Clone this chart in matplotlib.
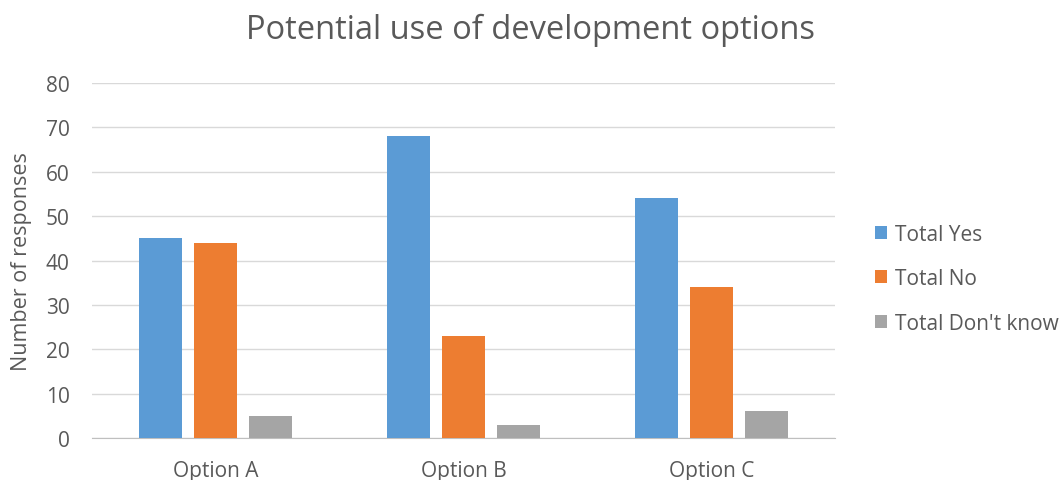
import matplotlib.pyplot as plt
import numpy as np

plt.rcParams['font.family'] = ['Open Sans', 'DejaVu Sans']

categories = ["Option A", "Option B", "Option C"]
total_yes = [45, 68, 54]
total_no = [44, 23, 34]
total_dont_know = [5, 3, 6]
series_names = ["Total Yes", "Total No", "Total Don't know"]
colors = ["#5B9BD5", "#ED7D31", "#A5A5A5"]

fig = plt.figure(figsize=(10.64, 4.81), dpi=100)
ax = fig.add_axes([0.0865, 0.0873, 0.6985, 0.738])

x = np.arange(len(categories))
width = 0.174
step = 0.222
for i, (vals, name, c) in enumerate(zip([total_yes, total_no, total_dont_know], series_names, colors)):
    ax.bar(x + (i - 1) * step, vals, width, color=c, label=name, zorder=3)

ax.set_xlim(-0.5, 2.5)
ax.set_ylim(0, 80)
ax.set_yticks(range(0, 81, 10))
ax.set_xticks(x)
ax.set_xticklabels(categories)
ax.grid(axis='y', color='#D9D9D9', linewidth=1, zorder=0)
for s in ['top', 'right', 'left']:
    ax.spines[s].set_visible(False)
ax.spines['bottom'].set_color('#BFBFBF')
ax.tick_params(axis='both', length=0, labelsize=15, colors='#595959')
ax.tick_params(axis='y', pad=16)
ax.tick_params(axis='x', pad=16)
ax.set_ylabel("Number of responses", fontsize=15.5, color='#595959', labelpad=10)

fig.text(0.499, 0.936, "Potential use of development options", ha='center', va='center',
         fontsize=23.5, color='#595959')

ax.legend(loc='center left', bbox_to_anchor=(1.028, 0.449), frameon=False, fontsize=15,
          handlelength=0.6, handleheight=0.6, labelspacing=1.13, handletextpad=0.35,
          labelcolor='#595959')

fig.savefig("out.png", dpi=100)
